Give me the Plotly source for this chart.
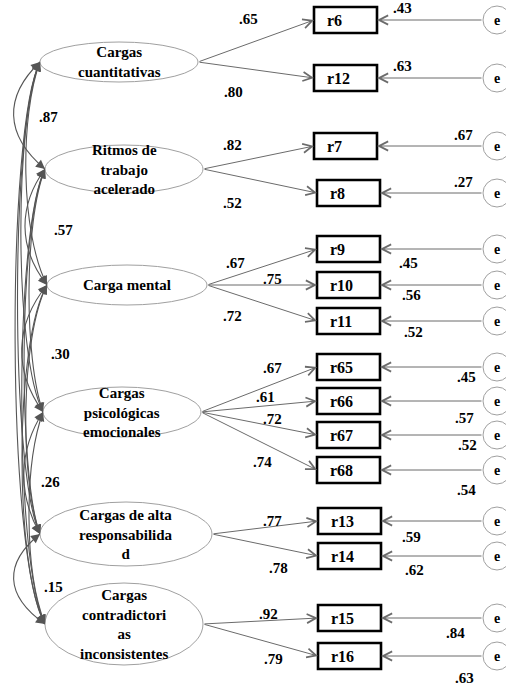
import plotly.graph_objects as go
import numpy as np

# ---------------- data ----------------
factors = ["Cargas<br>cuantitativas", "Ritmos de<br>trabajo<br>acelerado", "Carga mental",
           "Cargas<br>psicológicas<br>emocionales", "Cargas de alta<br>responsabilida<br>d",
           "Cargas<br>contradictori<br>as<br>inconsistentes"]
indicators = [["r6", "r12"], ["r7", "r8"], ["r9", "r10", "r11"],
              ["r65", "r66", "r67", "r68"], ["r13", "r14"], ["r15", "r16"]]
loadings = [[0.65, 0.80], [0.82, 0.52], [0.67, 0.75, 0.72],
            [0.67, 0.61, 0.72, 0.74], [0.77, 0.78], [0.92, 0.79]]
errors = [[0.43, 0.63], [0.67, 0.27], [0.45, 0.56, 0.52],
          [0.45, 0.57, 0.52, 0.54], [0.59, 0.62], [0.84, 0.63]]
correlations = [0.87, 0.57, 0.30, 0.26, 0.15]

# ---------------- layout geometry (pixels) ----------------
W, H = 506, 687
fac_geom = [(119, 62, 79, 20), (124, 169, 79, 24), (127, 285, 80, 20),
            (122, 412, 79, 25), (126, 534, 86, 32), (124, 624, 79, 41)]
box_cy = [[20, 78], [146, 193], [249, 285, 321], [367, 401, 435, 470], [521, 556], [618, 656]]
box_x0 = [[314, 314], [314, 317], [317, 317, 317], [317, 317, 317, 317], [318, 318], [318, 318]]
BOX_W, BOX_H = 63, 26
load_pos = [[(248, 19), (233, 92)], [(232, 145), (232, 203)],
            [(235, 263), (272, 279), (232, 316)],
            [(272, 368), (265, 397), (272, 419), (262, 462)],
            [(272, 521), (278, 568)], [(268, 614), (273, 659)]]
err_pos = [[(402, 8), (402, 66)], [(463, 135), (463, 182)],
           [(408, 263), (411, 295), (413, 332)],
           [(466, 377), (464, 418), (467, 445), (466, 490)],
           [(411, 537), (414, 570)], [(455, 633), (464, 678)]]
corr_pos = [(48, 117), (63, 230), (60, 354), (50, 482), (53, 587)]
E_CX, E_R = 497, 14

LINE = "#6b6b6b"
FONT = "Liberation Serif, Times New Roman, serif"

def fmt(v):
    return "." + f"{v:.2f}".split(".")[1]

shapes, annots = [], []

def text(x, y, t, size=14, xanchor="center"):
    annots.append(dict(x=x, y=y, text=f"<b>{t}</b>", showarrow=False, xanchor=xanchor,
                       yanchor="middle", font=dict(family=FONT, size=size, color="black")))

def arrow(x, y, ax, ay, head=5, size=1.8, color=LINE, width=1):
    annots.append(dict(x=x, y=y, ax=ax, ay=ay, xref="x", yref="y", axref="x", ayref="y",
                       text="", showarrow=True, arrowhead=head, arrowsize=size,
                       arrowwidth=width, arrowcolor=color, standoff=0, startstandoff=0))

# correlation curves
xc_by_span = {1: 4, 2: 20, 3: 14, 4: 10, 5: 6}
n = len(factors)
for i in range(n):
    for j in range(i + 1, n):
        cx1, cy1, rx1, _ = fac_geom[i]
        cx2, cy2, rx2, _ = fac_geom[j]
        x0, y0 = cx1 - rx1, cy1
        x3, y3 = cx2 - rx2, cy2
        s = j - i
        xc = xc_by_span[s] + (i % 2) * 4
        if s == 1 and 0 < i < n - 2:
            xc += 10
        k = 0.32 * (y3 - y0) if s == 1 else 45 + 4 * s
        p1 = (xc, y0 + k)
        p2 = (xc, y3 - k)
        shapes.append(dict(type="path", xref="x", yref="y",
                           path=f"M{x0},{y0} C{p1[0]},{p1[1]} {p2[0]},{p2[1]} {x3},{y3}",
                           line=dict(color="#555555", width=1.1)))
        for (px, py), (qx, qy) in (((x0, y0), p1), ((x3, y3), p2)):
            d = np.array([qx - px, qy - py], float)
            d /= np.linalg.norm(d)
            arrow(px, py, px + d[0] * 8, py + d[1] * 8, head=2, size=1.5,
                  color="#555555", width=1.2)

for t, (x, y) in zip(correlations, corr_pos):
    text(x, y, fmt(t), size=15)

# factors, indicators, errors
for f, (cx, cy, rx, ry) in enumerate(fac_geom):
    shapes.append(dict(type="circle", xref="x", yref="y", x0=cx - rx, x1=cx + rx,
                       y0=cy - ry, y1=cy + ry, line=dict(color="#a0a0a0", width=1),
                       fillcolor="white", layer="above"))
    text(cx, cy, factors[f], size=15)
    for k, name in enumerate(indicators[f]):
        by = box_cy[f][k]
        bx = box_x0[f][k]
        shapes.append(dict(type="rect", xref="x", yref="y", x0=bx, x1=bx + BOX_W,
                           y0=by - BOX_H / 2, y1=by + BOX_H / 2,
                           line=dict(color="black", width=2.6), fillcolor="white"))
        text(bx + 11, by, name, size=16, xanchor="left")
        # loading arrow
        arrow(bx, by, cx + rx, cy)
        text(*load_pos[f][k], fmt(loadings[f][k]), size=15)
        # error circle
        shapes.append(dict(type="circle", xref="x", yref="y", x0=E_CX - E_R, x1=E_CX + E_R,
                           y0=by - E_R, y1=by + E_R, line=dict(color="#a0a0a0", width=1),
                           fillcolor="white"))
        text(E_CX, by, "e", size=14)
        arrow(bx + BOX_W, by, E_CX - E_R, by)
        text(*err_pos[f][k], fmt(errors[f][k]), size=15)

fig = go.Figure()
fig.update_layout(width=W, height=H, margin=dict(l=0, r=0, t=0, b=0),
                  paper_bgcolor="white", plot_bgcolor="white",
                  xaxis=dict(range=[0, W], visible=False, fixedrange=True),
                  yaxis=dict(range=[H, 0], visible=False, fixedrange=True),
                  shapes=shapes, annotations=annots, showlegend=False)
fig.write_html("out.html", config={"displayModeBar": False},
               post_script="document.body.style.margin='0';document.body.style.overflow='hidden';")
